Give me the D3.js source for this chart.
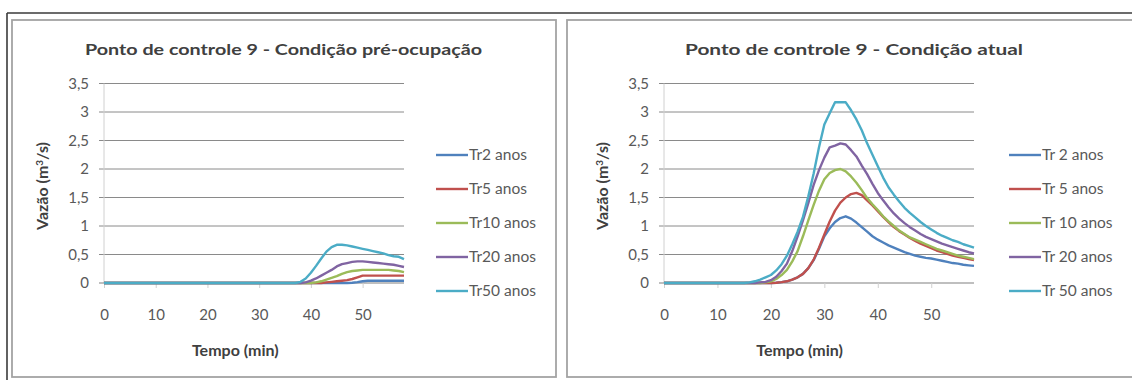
<!DOCTYPE html>
<html>
<head>
<meta charset="utf-8">
<script src="https://cdn.jsdelivr.net/npm/d3@7"></script>
<style>
  body { margin: 0; background: #fff; }
  text { font-family: Lato, "Open Sans", sans-serif; }
</style>
</head>
<body>
<div id="chart"></div>
<script>
// time axis (min)
var tempo = [0,1,2,3,4,5,6,7,8,9,10,11,12,13,14,15,16,17,18,19,20,21,22,23,24,25,26,27,28,29,
             30,31,32,33,34,35,36,37,38,39,40,41,42,43,44,45,46,47,48,49,50,51,52,53,54,55,56,57,58];

var xTicks = [0, 10, 20, 30, 40, 50];
var yTicks = [0, 0.5, 1, 1.5, 2, 2.5, 3, 3.5];

var serieColors = ["#4F81BD", "#C0504D", "#9BBB59", "#8064A2", "#4BACC6"];

// Condição pré-ocupação
var preLabels = ["Tr2 anos", "Tr5 anos", "Tr10 anos", "Tr20 anos", "Tr50 anos"];
var preTr2 = [0,0,0,0,0,0,0,0,0,0, 0,0,0,0,0,0,0,0,0,0, 0,0,0,0,0,0,0,0,0,0, 0,0,0,0,0,0,0,0,0,0,
              0,0,0,0,0,0,0,0,0.005,0.015, 0.03,0.04,0.04,0.04,0.04,0.04,0.04,0.04,0.04];
var preTr5 = [0,0,0,0,0,0,0,0,0,0, 0,0,0,0,0,0,0,0,0,0, 0,0,0,0,0,0,0,0,0,0, 0,0,0,0,0,0,0,0,0,0,
              0,0,0,0.01,0.02,0.03,0.04,0.05,0.07,0.1, 0.13,0.13,0.13,0.13,0.13,0.13,0.13,0.13,0.13];
var preTr10 = [0,0,0,0,0,0,0,0,0,0, 0,0,0,0,0,0,0,0,0,0, 0,0,0,0,0,0,0,0,0,0, 0,0,0,0,0,0,0,0,0,0,
               0,0.01,0.03,0.06,0.09,0.12,0.16,0.19,0.21,0.22, 0.23,0.23,0.23,0.23,0.23,0.23,0.22,0.21,0.19];
var preTr20 = [0,0,0,0,0,0,0,0,0,0, 0,0,0,0,0,0,0,0,0,0, 0,0,0,0,0,0,0,0,0,0, 0,0,0,0,0,0,0,0,0,0.01,
               0.04,0.08,0.13,0.18,0.23,0.29,0.33,0.35,0.37,0.38, 0.38,0.37,0.36,0.35,0.34,0.33,0.32,0.30,0.28];
var preTr50 = [0,0,0,0,0,0,0,0,0,0, 0,0,0,0,0,0,0,0,0,0, 0,0,0,0,0,0,0,0,0,0, 0,0,0,0,0,0,0,0,0.02,0.08,
               0.18,0.30,0.43,0.55,0.63,0.67,0.67,0.66,0.64,0.62, 0.60,0.58,0.56,0.54,0.52,0.49,0.47,0.46,0.42];

// Condição atual
var atualLabels = ["Tr 2 anos", "Tr 5 anos", "Tr 10 anos", "Tr 20 anos", "Tr 50 anos"];
var atualTr2 = [0,0,0,0,0,0,0,0,0,0, 0,0,0,0,0,0,0,0,0,0, 0,0.005,0.015,0.03,0.06,0.10,0.16,0.26,0.40,0.60,
                0.82,0.96,1.07,1.14,1.17,1.13,1.06,0.98,0.90,0.82, 0.76,0.71,0.66,0.62,0.58,0.54,0.51,0.48,0.46,0.44,
                0.43,0.41,0.39,0.37,0.35,0.34,0.32,0.31,0.30];
var atualTr5 = [0,0,0,0,0,0,0,0,0,0, 0,0,0,0,0,0,0,0,0,0, 0,0.005,0.015,0.03,0.06,0.10,0.16,0.26,0.41,0.62,
                0.85,1.08,1.27,1.41,1.50,1.56,1.58,1.54,1.45,1.36, 1.26,1.16,1.07,0.98,0.91,0.85,0.79,0.74,0.69,0.65,
                0.61,0.57,0.54,0.51,0.48,0.46,0.44,0.42,0.40];
var atualTr10 = [0,0,0,0,0,0,0,0,0,0, 0,0,0,0,0,0,0,0,0,0.01, 0.03,0.07,0.14,0.23,0.38,0.56,0.82,1.10,1.37,1.62,
                 1.82,1.93,1.98,2.00,1.96,1.87,1.76,1.63,1.49,1.38, 1.28,1.17,1.08,1.00,0.92,0.86,0.80,0.76,0.72,0.68,
                 0.64,0.60,0.57,0.54,0.51,0.48,0.46,0.44,0.42];
var atualTr20 = [0,0,0,0,0,0,0,0,0,0, 0,0,0,0,0,0,0,0,0.01,0.02, 0.05,0.11,0.21,0.34,0.56,0.82,1.10,1.40,1.72,1.98,
                 2.20,2.38,2.41,2.45,2.43,2.33,2.22,2.06,1.91,1.74, 1.58,1.45,1.33,1.22,1.13,1.05,0.98,0.92,0.86,0.81,
                 0.77,0.73,0.69,0.66,0.63,0.60,0.57,0.54,0.52];
var atualTr50 = [0,0,0,0,0,0,0,0,0,0, 0,0,0,0,0,0,0.01,0.03,0.06,0.10, 0.14,0.22,0.33,0.48,0.68,0.90,1.16,1.52,1.92,2.38,
                 2.78,2.98,3.17,3.17,3.17,3.03,2.87,2.68,2.45,2.25, 2.05,1.85,1.68,1.55,1.43,1.32,1.23,1.15,1.07,1.00,
                 0.94,0.88,0.83,0.79,0.75,0.72,0.68,0.65,0.62];

var ptBR = d3.formatLocale({ decimal: ",", thousands: ".", grouping: [3], currency: ["R$", ""] });
var fmtY = ptBR.format("~g");

var svg = d3.select("#chart").append("svg")
    .attr("width", 1132)
    .attr("height", 380);

// outer table border
svg.append("line").attr("x1", 7).attr("x2", 1132).attr("y1", 13).attr("y2", 13)
    .style("stroke", "#3a3a3a").style("stroke-width", 1.6);
svg.append("line").attr("x1", 7).attr("x2", 7).attr("y1", 13).attr("y2", 380)
    .style("stroke", "#3a3a3a").style("stroke-width", 1.6);

/**
 *  panel   one chart of the pair
 */
function panel(opts)
{
    var g = svg.append("g");

    g.append("rect")
        .attr("x", opts.boxX).attr("y", 20)
        .attr("width", opts.boxW).attr("height", 357)
        .style("fill", "#fff")
        .style("stroke", "#a3a3a3")
        .style("stroke-width", 1.8);

    var x = d3.scaleLinear().domain([0, 58]).range([opts.left, opts.right]);
    var y = d3.scaleLinear().domain([0, 3.5]).range([283, 83.5]);

    // gridlines (they also act as the y ticks)
    g.selectAll(".grid")
        .data(yTicks.slice(1))
      .enter().append("line")
        .attr("x1", opts.left - 5).attr("x2", opts.right)
        .attr("y1", function(d) { return y(d); })
        .attr("y2", function(d) { return y(d); })
        .style("stroke", "#8a8a8a")
        .style("stroke-width", 1);

    // y axis line
    g.append("line")
        .attr("x1", opts.left).attr("x2", opts.left)
        .attr("y1", y(3.5)).attr("y2", y(0))
        .style("stroke", "#d0d0d0").style("stroke-width", 1);

    // x axis
    var xAxis = d3.axisBottom(x).tickValues(xTicks).tickSize(5).tickFormat(d3.format("d"));
    var ax = g.append("g").attr("transform", "translate(0," + y(0) + ")").call(xAxis);
    ax.select(".domain").attr("d", "M" + (opts.left - 5) + ",0H" + opts.right)
        .style("stroke", "#808080").style("stroke-width", 1.2);
    ax.selectAll(".tick line").style("stroke", "#d0d0d0");
    ax.selectAll(".tick text")
        .attr("dy", null).attr("y", 37)
        .style("font-size", "15px").style("fill", "#595959")
        .style("font-family", "Lato, sans-serif");

    // y labels
    g.selectAll(".ylab")
        .data(yTicks)
      .enter().append("text")
        .attr("x", opts.left - 15)
        .attr("y", function(d) { return y(d) + 5; })
        .attr("text-anchor", "end")
        .style("font-size", "15px")
        .style("fill", "#595959")
        .text(fmtY);

    // titles
    g.append("text")
        .attr("x", opts.titleX).attr("y", 55)
        .attr("textLength", opts.titleLen)
        .attr("lengthAdjust", "spacingAndGlyphs")
        .style("font-size", "16px").style("font-weight", "bold")
        .style("fill", "#404040")
        .text(opts.title);

    g.append("text")
        .attr("x", (opts.left + x(50)) / 2 + 2).attr("y", 356)
        .attr("text-anchor", "middle")
        .style("font-size", "16px").style("font-weight", "bold")
        .style("fill", "#404040")
        .text("Tempo (min)");

    var yt = g.append("text")
        .attr("transform", "translate(" + (opts.left - 56) + ",186) rotate(-90)")
        .attr("text-anchor", "middle")
        .style("font-size", "16px").style("font-weight", "bold")
        .style("fill", "#404040");
    yt.append("tspan").text("Vazão (m");
    yt.append("tspan").attr("dy", -5).style("font-size", "10px").text("3");
    yt.append("tspan").attr("dy", 5).text("/s)");

    // series
    var line = d3.line()
        .x(function(d, i) { return x(tempo[i]); })
        .y(function(d) { return y(d); });

    g.selectAll(".serie")
        .data(opts.series)
      .enter().append("path")
        .attr("d", line)
        .style("fill", "none")
        .style("stroke", function(d, i) { return serieColors[i]; })
        .style("stroke-width", 2.4)
        .style("stroke-linejoin", "round");

    // legend
    var leg = g.selectAll(".leg")
        .data(opts.labels)
      .enter().append("g")
        .attr("transform", function(d, i) { return "translate(" + opts.legX + "," + (155 + i * 34) + ")"; });
    leg.append("line")
        .attr("x1", 0).attr("x2", 32)
        .style("stroke", function(d, i) { return serieColors[i]; })
        .style("stroke-width", 2.4);
    leg.append("text")
        .attr("x", 33).attr("y", 5)
        .style("font-size", "15.5px")
        .style("fill", "#595959")
        .text(function(d) { return d; });
}

panel({
    boxX: 12, boxW: 544,
    left: 104, right: 404,
    title: "Ponto de controle 9 - Condição pré-ocupação", titleX: 85, titleLen: 397,
    series: [preTr2, preTr5, preTr10, preTr20, preTr50],
    labels: preLabels,
    legX: 436
});

panel({
    boxX: 567, boxW: 575,
    left: 664, right: 974,
    title: "Ponto de controle 9 - Condição atual", titleX: 685, titleLen: 338,
    series: [atualTr2, atualTr5, atualTr10, atualTr20, atualTr50],
    labels: atualLabels,
    legX: 1009
});
</script>
</body>
</html>
